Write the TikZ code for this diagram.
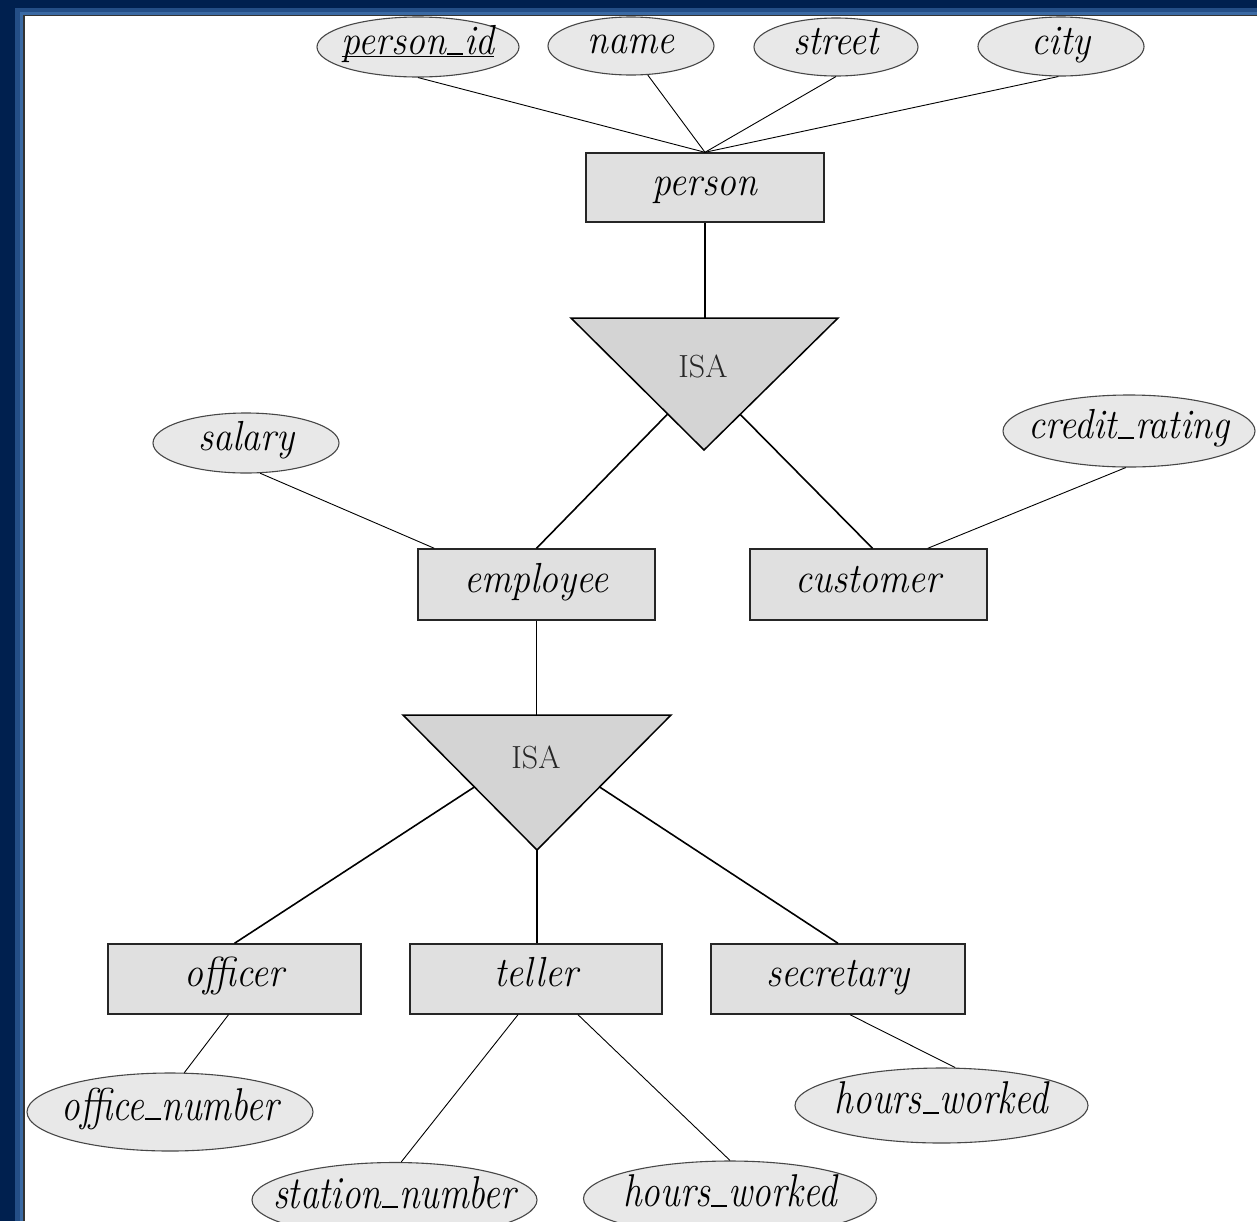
\documentclass[tikz,border=0pt]{standalone}
\usepackage{fontspec}
\usepackage{graphicx}
\usetikzlibrary{shapes.geometric,calc}
\definecolor{navy}{HTML}{00204F}
\definecolor{stripeA}{HTML}{244E86}
\definecolor{stripeB}{HTML}{3A69A3}
\definecolor{attrgray}{HTML}{E8E8E8}
\definecolor{entgray}{HTML}{E0E0E0}
\definecolor{isagray}{HTML}{D4D4D4}
\newcommand{\upfont}{\fontsize{42}{46}\selectfont\itshape}
\newcommand{\lowfont}{\fontsize{46}{50}\selectfont\itshape}
\newcommand{\isafont}{\fontsize{32}{36}\selectfont}
\newcommand{\us}{\kern0.03em\rule{0.42em}{0.035em}\kern0.03em}
\newcommand{\uplab}[1]{\makebox[0pt]{\scalebox{0.9}[1]{#1}}}
\newcommand{\lowlab}[1]{\makebox[0pt]{\scalebox{0.81}[1]{#1}}}
\tikzset{
  attr/.style={ellipse, draw=black!72, fill=attrgray, line width=1.1pt, inner sep=0pt,
    font=\upfont, text height=25pt, text depth=10pt},
  lowattr/.style={attr, font=\lowfont, text height=28pt, text depth=12pt},
  ent/.style={rectangle, draw=black!85, fill=entgray, line width=1.4pt, inner sep=0pt,
    font=\upfont, text height=25pt, text depth=10pt},
  isatri/.style={draw=black, fill=isagray, line width=1.5pt, line join=miter},
  isalabel/.style={inner sep=0pt, font=\isafont, text=black!85},
  link/.style={line width=0.9pt},
  isalink/.style={line width=1.6pt}
}
\begin{document}
\begin{tikzpicture}[x=1pt,y=-1pt]
% frame
\fill[navy] (0,0) rectangle (1257,1221);
\fill[stripeA] (15,8) rectangle (1257,1221);
\fill[stripeB] (20,12) rectangle (1257,1221);
\fill[black!80] (23,15) rectangle (1257,1221);
\fill[white] (25,16) rectangle (1257,1221);
\useasboundingbox (0,0) rectangle (1257,1221);

% entities
\node[ent, minimum width=238, minimum height=69] (person) at (705,187.5) {\uplab{person}};
\node[ent, minimum width=237, minimum height=71] (employee) at (536.5,584.5) {\uplab{employee}};
\node[ent, minimum width=237, minimum height=71] (customer) at (868.5,584.5) {\uplab{customer}};
\node[ent, minimum width=253, minimum height=70] (officer) at (234.5,979) {\uplab{officer}};
\node[ent, minimum width=252, minimum height=70] (teller) at (536,979) {\uplab{teller}};
\node[ent, minimum width=254, minimum height=70] (secretary) at (838,979) {\uplab{secretary}};

% attributes
\node[attr, minimum width=202, minimum height=60] (pid) at (418,47) {\uplab{\underline{\smash{person\us id}}}};
\node[attr, minimum width=166, minimum height=58] (name) at (631,46) {\uplab{name}};
\node[attr, minimum width=164, minimum height=58] (street) at (836,47) {\uplab{street}};
\node[attr, minimum width=166, minimum height=59] (city) at (1061,46.5) {\uplab{city}};
\node[attr, minimum width=186, minimum height=60] (salary) at (246,443) {\uplab{salary}};
\node[attr, minimum width=252, minimum height=72] (credit) at (1129,431) {\uplab{credit\us rating}};
\node[lowattr, minimum width=286, minimum height=78] (office) at (170,1112) {\lowlab{office\us number}};
\node[lowattr, minimum width=285, minimum height=75] (station) at (394.5,1200) {\lowlab{station\us number}};
\node[lowattr, minimum width=293, minimum height=75] (hoursA) at (730,1198.5) {\lowlab{hours\us worked}};
\node[lowattr, minimum width=293, minimum height=75] (hoursB) at (941.5,1105.5) {\lowlab{hours\us worked}};

% ISA triangles
\coordinate (t1a) at (571,318);
\coordinate (t1b) at (838,318);
\coordinate (t1c) at (704,450);
\draw[isatri] (t1a) -- (t1b) -- (t1c) -- cycle;
\node[isalabel] (isa1) at (703,366) {ISA};
\coordinate (t2a) at (403,715);
\coordinate (t2b) at (671,715);
\coordinate (t2c) at (537,850);
\draw[isatri] (t2a) -- (t2b) -- (t2c) -- cycle;
\node[isalabel] (isa2) at (536,757) {ISA};

\coordinate (t1L) at ($(t1a)!0.727!(t1c)$);
\coordinate (t1R) at ($(t1b)!0.73!(t1c)$);
\coordinate (t2L) at ($(t2a)!0.533!(t2c)$);
\coordinate (t2R) at ($(t2b)!0.533!(t2c)$);

% ISA links
\draw[isalink] (person.south) -- (person.south |- t1a);
\draw[isalink] (t1L) -- (employee.north);
\draw[isalink] (t1R) -- ($(customer.north)+(4,0)$);
\draw[isalink] (employee.south) -- (employee.south |- t2a);
\draw[isalink] (t2L) -- (officer.north);
\draw[isalink] (t2c) -- (t2c |- teller.north);
\draw[isalink] (t2R) -- (secretary.north);

% attribute links
\draw[link] (pid.south) -- (person.north);
\draw[link] (name.-60) -- (person.north);
\draw[link] (street.south) -- (person.north);
\draw[link] (city.-95) -- (person.north);
\draw[link] (salary.-65) -- ($(employee.north west)+(17,0)$);
\draw[link] (credit.-95) -- ($(customer.north east)+(-60,0)$);
\draw[link] ($(officer.south)+(-6,0)$) -- (office.70);
\draw[link] ($(teller.south)+(-18,0)$) -- (station.80);
\draw[link] ($(teller.south)+(42,0)$) -- (hoursA.north);
\draw[link] ($(secretary.south)+(12,0)$) -- (hoursB.70);
\end{tikzpicture}
\end{document}
